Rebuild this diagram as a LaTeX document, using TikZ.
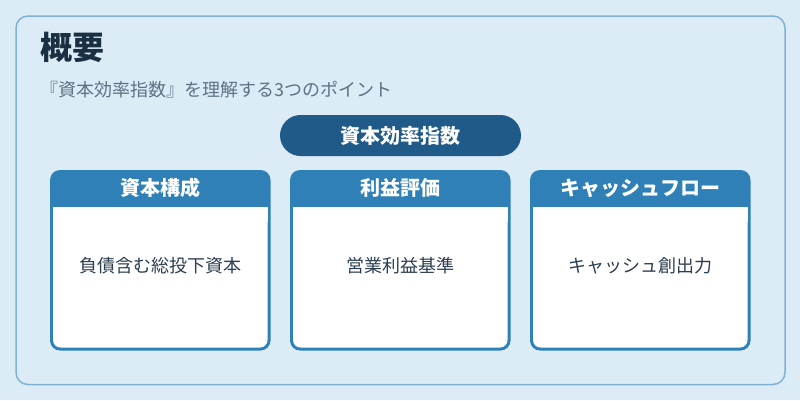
\documentclass[tikz,border=0pt]{standalone}
\usepackage{fontspec}
\setmainfont{Noto Sans CJK JP}
\definecolor{bgc}{HTML}{DCECF7}
\definecolor{panelb}{HTML}{7FB2D4}
\definecolor{titlec}{HTML}{1B2F42}
\definecolor{subc}{HTML}{5C7284}
\definecolor{pillc}{HTML}{1F5A88}
\definecolor{hdrc}{HTML}{2E80B6}
\definecolor{bodyc}{HTML}{2C3E50}
\tikzset{
  pill/.style={fill=pillc, text=white, rounded corners=20.5pt, minimum width=241pt, minimum height=41pt, inner sep=0pt, font=\fontsize{20}{22}\selectfont\bfseries},
  hdrtext/.style={text=white, inner sep=0pt, font=\fontsize{20}{22}\selectfont\bfseries},
  bodytext/.style={text=bodyc, inner sep=0pt, font=\fontsize{18}{20}\selectfont},
}
\begin{document}
\begin{tikzpicture}[x=1pt,y=-1pt]
\useasboundingbox (0,0) rectangle (800,400);
\fill[bgc] (0,0) rectangle (800,400);
\draw[panelb, line width=1.5pt, fill=bgc, rounded corners=12pt] (16,16) rectangle (785,384.5);
\node[anchor=west, inner sep=0pt, text=titlec, font=\fontsize{32}{34}\selectfont\bfseries] (title) at (40,47) {概要};
\node[anchor=west, inner sep=0pt, text=subc, font=\fontsize{18}{20}\selectfont] (sub) at (40,89.5) {『資本効率指数』を理解する3つのポイント};
\node[pill] (root) at (400.5,135.5) {資本効率指数};
\foreach \i/\x/\h/\b in {a/50/資本構成/負債含む総投下資本, b/290/利益評価/営業利益基準, c/530/キャッシュフロー/キャッシュ創出力} {
  \fill[hdrc, rounded corners=10pt] (\x,170) rectangle ({\x+220.5},350.5);
  \fill[white, rounded corners=7.5pt] ({\x+3},207) rectangle ({\x+217.5},347.5);
  \fill[white] ({\x+3},207) rectangle ({\x+217.5},222);
  \node[hdrtext] (h\i) at ({\x+110.25},188) {\h};
  \node[bodytext] (b\i) at ({\x+110.25},265.5) {\b};
}
\end{tikzpicture}
\end{document}
